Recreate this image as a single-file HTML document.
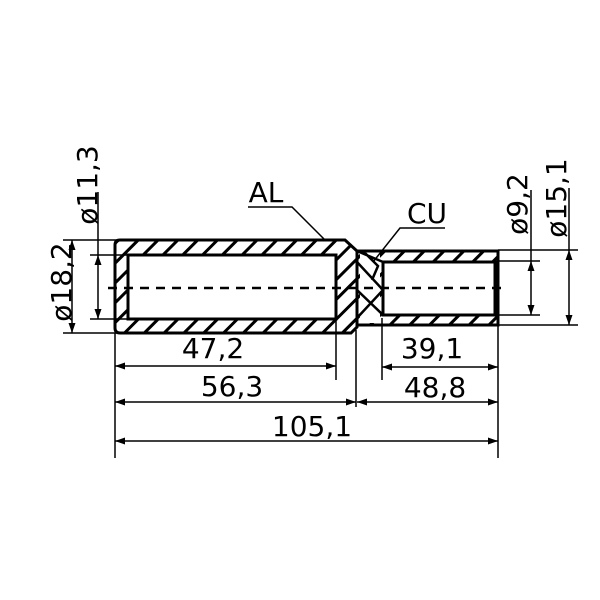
<!DOCTYPE html>
<html><head><meta charset="utf-8"><style>body{margin:0;background:#fff}svg{display:block}</style></head><body>
<svg width="600" height="600" viewBox="0 0 600 600" xmlns="http://www.w3.org/2000/svg" font-family="'DejaVu Sans','Liberation Sans',sans-serif">
<defs>
<pattern id="h" width="14" height="14" patternUnits="userSpaceOnUse" patternTransform="rotate(45)">
<rect x="0" y="0" width="3" height="14" fill="#000"/>
</pattern>
<marker id="a" viewBox="0 0 10 10" refX="10" refY="5" markerWidth="10" markerHeight="10" markerUnits="userSpaceOnUse" orient="auto-start-reverse"><path d="M0,1.5 L10,5 L0,8.5z" fill="#000"/></marker>
</defs>
<rect width="600" height="600" fill="#fff"/>
<!-- AL body -->
<path d="M120,240 H345 L357,251 V327 L351,333 H120 Q115,333 115,328 V245 Q115,240 120,240Z M128,255 V319 H336 V255Z" fill="url(#h)" fill-rule="evenodd" stroke="#000" stroke-width="3"/>
<!-- CU body -->
<path d="M357,251 H498 V325 H357Z M383,262 V315 H495 V262Z" fill="url(#h)" fill-rule="evenodd" stroke="#000" stroke-width="3"/>
<rect x="360" y="253" width="20" height="70" fill="#fff"/>
<path d="M357,251 L383,262 M357,262 L383,290 L357,318 M365,253 L378,266 L372,280 M357,290 L383,315" stroke="#000" stroke-width="2.5" fill="none"/>
<line x1="357" y1="251" x2="357" y2="327" stroke="#000" stroke-width="3"/>
<!-- centerline -->
<line x1="108" y1="288" x2="505" y2="288" stroke="#000" stroke-width="2.5" stroke-dasharray="9,7"/>
<g stroke="#000" stroke-width="1.5" fill="none">
<!-- left ext lines -->
<line x1="63" y1="240" x2="118" y2="240"/><line x1="63" y1="333" x2="118" y2="333"/>
<line x1="90" y1="255" x2="128" y2="255"/><line x1="90" y1="319" x2="128" y2="319"/>
<line x1="98" y1="192" x2="98" y2="255"/>
<line x1="72" y1="240" x2="72" y2="333" marker-start="url(#a)" marker-end="url(#a)"/>
<line x1="98" y1="255" x2="98" y2="319" marker-start="url(#a)" marker-end="url(#a)"/>
<!-- right ext lines -->
<line x1="498" y1="250" x2="578" y2="250"/><line x1="498" y1="325" x2="578" y2="325"/>
<line x1="495" y1="261" x2="540" y2="261"/><line x1="495" y1="315" x2="540" y2="315"/>
<line x1="531" y1="190" x2="531" y2="261"/>
<line x1="569" y1="188" x2="569" y2="250"/>
<line x1="531" y1="261" x2="531" y2="315" marker-start="url(#a)" marker-end="url(#a)"/>
<line x1="569" y1="250" x2="569" y2="325" marker-start="url(#a)" marker-end="url(#a)"/>
<!-- bottom ext -->
<line x1="115" y1="333" x2="115" y2="458"/>
<line x1="336" y1="319" x2="336" y2="380"/>
<line x1="356" y1="330" x2="356" y2="407"/>
<line x1="382" y1="318" x2="382" y2="380"/>
<line x1="498" y1="325" x2="498" y2="458"/>
<line x1="115" y1="366" x2="336" y2="366" marker-start="url(#a)" marker-end="url(#a)"/>
<line x1="115" y1="402" x2="356" y2="402" marker-start="url(#a)" marker-end="url(#a)"/>
<line x1="115" y1="441" x2="498" y2="441" marker-start="url(#a)" marker-end="url(#a)"/>
<line x1="382" y1="367" x2="498" y2="367" marker-start="url(#a)" marker-end="url(#a)"/>
<line x1="357" y1="402" x2="498" y2="402" marker-start="url(#a)" marker-end="url(#a)"/>
<!-- leaders -->
<polyline points="248,207 292,207 325,240"/>
<polyline points="445,228 400,228 373,262"/>
</g>
<g font-size="28" fill="#000" text-anchor="middle">
<text x="213" y="358">47,2</text>
<text x="232" y="396">56,3</text>
<text x="312" y="436">105,1</text>
<text x="432" y="358">39,1</text>
<text x="435" y="397">48,8</text>
<text x="266" y="202">AL</text>
<text x="427" y="223">CU</text>
<text transform="translate(97,185) rotate(-90)">ø11,3</text>
<text transform="translate(71,282) rotate(-90)">ø18,2</text>
<text transform="translate(527,204) rotate(-90)">ø9,2</text>
<text transform="translate(566,198) rotate(-90)">ø15,1</text>
</g>
</svg>
</body></html>
